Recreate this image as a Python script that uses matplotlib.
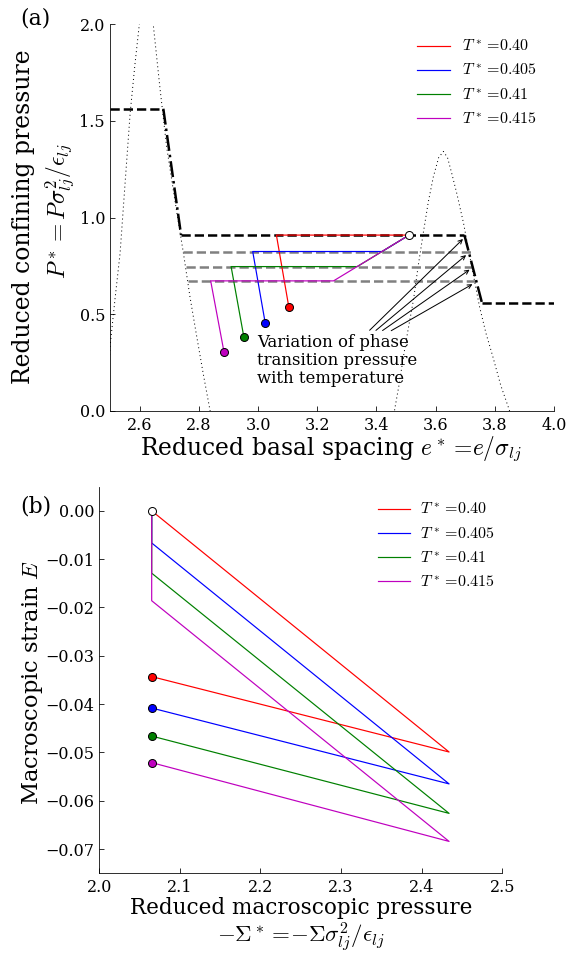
import matplotlib
matplotlib.use("Agg")
import matplotlib.pyplot as plt
import numpy as np

plt.rcParams['font.family'] = 'DejaVu Serif'
plt.rcParams['mathtext.fontset'] = 'cm'
plt.rcParams['axes.unicode_minus'] = True

temps = ['0.40', '0.405', '0.41', '0.415']
colors = ['r', 'b', 'g', 'm']

# (a) confining pressure vs basal spacing
step_x = [2.5, 2.68, 2.74, 3.697, 3.756, 4.0]
step_y = [1.563, 1.563, 0.909, 0.909, 0.56, 0.56]
gray_y = [0.824, 0.746, 0.672]
gray_x0 = [2.748, 2.757, 2.765]
gray_x1 = [3.72, 3.727, 3.736]

dot1_x = [2.49, 2.5, 2.517, 2.534, 2.551, 2.568, 2.584, 2.599, 2.611, 2.622, 2.634,
          2.646, 2.668, 2.691, 2.72, 2.748, 2.77, 2.793, 2.815, 2.838, 2.85]
dot1_y = [0.02, 0.33, 0.58, 0.815, 1.18, 1.54, 1.79, 2.0, 2.12, 2.16, 2.12,
          2.0, 1.68, 1.368, 1.08, 0.815, 0.59, 0.383, 0.19, 0.0, -0.1]
dot2_x = [3.45, 3.463, 3.477, 3.491, 3.508, 3.525, 3.541, 3.558, 3.575, 3.592, 3.61,
          3.626, 3.64, 3.654, 3.672, 3.694, 3.72, 3.748, 3.77, 3.793, 3.82, 3.845, 3.86]
dot2_y = [-0.1, 0.02, 0.14, 0.28, 0.43, 0.574, 0.75, 0.919, 1.08, 1.21, 1.31,
          1.342, 1.31, 1.23, 1.12, 0.971, 0.76, 0.539, 0.40, 0.28, 0.13, 0.02, -0.05]

start_a = (3.51, 0.909)
path_a_x = [[3.104, 3.062, 3.51],
            [3.024, 2.982, 3.419, 3.51],
            [2.952, 2.909, 3.335, 3.51],
            [2.885, 2.840, 3.255, 3.51]]
path_a_y = [[0.536, 0.909, 0.909],
            [0.456, 0.824, 0.824, 0.909],
            [0.382, 0.746, 0.746, 0.909],
            [0.304, 0.672, 0.672, 0.909]]

arrow_tail_x = [3.372, 3.393, 3.415, 3.444]
arrow_tail_y = [0.409, 0.409, 0.409, 0.409]
arrow_head_x = [3.697, 3.708, 3.72, 3.73]
arrow_head_y = [0.896, 0.812, 0.736, 0.66]

# (b) strain vs macroscopic pressure
sig_low = 2.065
sig_high = 2.434
e_dot = [-0.0343, -0.0408, -0.0466, -0.0521]
e_high = [-0.0499, -0.0565, -0.0626, -0.0684]
e_back = [0.0, -0.00665, -0.0129, -0.0186]

W, H = 576, 958
fig = plt.figure(figsize=(W / 72, H / 72), dpi=72)
ax1 = fig.add_axes([0.191, 0.5713, 0.771, 0.4033])
ax2 = fig.add_axes([0.1724, 0.0884, 0.6996, 0.4036])

for ax in (ax1, ax2):
    ax.spines['top'].set_visible(False)
    ax.spines['right'].set_visible(False)
    ax.tick_params(direction='in', length=5, labelsize=16, top=False, right=False)
    ax.tick_params(axis='x', pad=6)
    ax.tick_params(axis='y', pad=5)

# panel a
ax1.plot(dot1_x, dot1_y, color='k', lw=1, dashes=(1, 3))
ax1.plot(dot2_x, dot2_y, color='k', lw=1, dashes=(1, 3))
for i in range(len(gray_y)):
    ax1.plot([gray_x0[i], gray_x1[i]], [gray_y[i], gray_y[i]], '--', color='gray', lw=2.5)
for i in range(0, len(step_x) - 1):
    ls = '--' if i % 2 == 0 else '-.'
    ax1.plot(step_x[i:i + 2], step_y[i:i + 2], ls, color='k', lw=2.5)

for i in range(4):
    ax1.plot(path_a_x[i], path_a_y[i], '-', color=colors[i], lw=1.2,
             label=r'$T^* =\!' + temps[i] + '$')
for i in range(4):
    ax1.plot(path_a_x[i][0], path_a_y[i][0], 'o', color=colors[i], mec='k', ms=8)
ax1.plot(start_a[0], start_a[1], 'o', color='w', mec='k', ms=8)

for i in range(4):
    ax1.annotate('', xy=(arrow_head_x[i], arrow_head_y[i]),
                 xytext=(arrow_tail_x[i], arrow_tail_y[i]),
                 arrowprops=dict(arrowstyle='->', color='k', lw=1))
ax1.text(2.998, 0.398, 'Variation of phase\ntransition pressure\nwith temperature',
         fontsize=16.5, va='top', ha='left', linespacing=1.08)

ax1.set_xlim(2.5, 4.0)
ax1.set_ylim(0, 2.0)
ax1.set_xticks([2.6, 2.8, 3.0, 3.2, 3.4, 3.6, 3.8, 4.0])
ax1.set_yticks([0.0, 0.5, 1.0, 1.5, 2.0])
ax1.legend(loc='upper left', bbox_to_anchor=(0.691, 0.964), frameon=False,
           fontsize=16, borderpad=0, borderaxespad=0, handlelength=2.1,
           handletextpad=0.75, labelspacing=0.45)

fig.text(331 / W, 1 - 455 / H, r'Reduced basal spacing $e^* =\!e/\sigma_{lj}$',
         fontsize=23.5, ha='center', va='baseline')
fig.text(24 / W, 1 - 217 / H, 'Reduced confining pressure', rotation=90,
         fontsize=23.5, ha='center', va='center')
fig.text(60 / W, 1 - 211 / H, r'$P^* = P\sigma_{lj}^2/\epsilon_{lj}$', rotation=90,
         fontsize=23.5, ha='center', va='center')
fig.text(20 / W, 1 - 18 / H, '(a)', fontsize=22, ha='left', va='center')

# panel b
for i in range(4):
    ax2.plot([sig_low, sig_high, sig_low, sig_low], [e_dot[i], e_high[i], e_back[i], 0.0],
             '-', color=colors[i], lw=1.2, label=r'$T^* =\!' + temps[i] + '$')
for i in range(4):
    ax2.plot(sig_low, e_dot[i], 'o', color=colors[i], mec='k', ms=8)
ax2.plot(sig_low, 0.0, 'o', color='w', mec='k', ms=8)

ax2.set_xlim(2.0, 2.5)
ax2.set_ylim(-0.075, 0.005)
ax2.set_xticks([2.0, 2.1, 2.2, 2.3, 2.4, 2.5])
ax2.set_yticks([-0.07, -0.06, -0.05, -0.04, -0.03, -0.02, -0.01, 0.0])
ax2.set_yticklabels(['\u22120.07', '\u22120.06', '\u22120.05', '\u22120.04',
                     '\u22120.03', '\u22120.02', '\u22120.01', '0.00'])
ax2.legend(loc='upper left', bbox_to_anchor=(0.6916, 0.962), frameon=False,
           fontsize=16, borderpad=0, borderaxespad=0, handlelength=2.0,
           handletextpad=0.65, labelspacing=0.45)
fig.text(301 / W, 1 - 914 / H, 'Reduced macroscopic pressure',
         fontsize=21.5, ha='center', va='baseline')
fig.text(301 / W, 1 - 943 / H, r'$-\Sigma^* =\!{-}\Sigma\sigma_{lj}^2/\epsilon_{lj}$',
         fontsize=23, ha='center', va='baseline')
fig.text(33 / W, 1 - 682 / H, r'Macroscopic strain $E$', rotation=90,
         fontsize=22.5, ha='center', va='center')
fig.text(20 / W, 1 - 506 / H, '(b)', fontsize=22, ha='left', va='center')

fig.savefig('out.png', dpi=72)
